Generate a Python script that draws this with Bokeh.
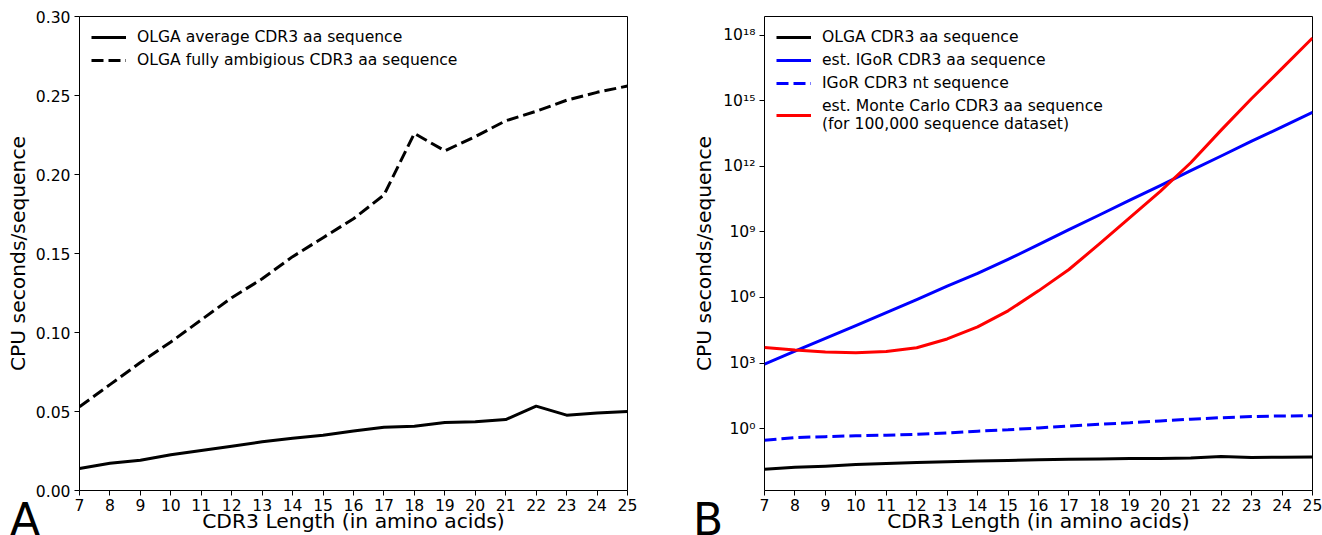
from bokeh.plotting import figure
from bokeh.layouts import row, column
from bokeh.models import (Range1d, FixedTicker, NumeralTickFormatter, CustomJSTickFormatter,
                          Legend, LegendItem, Div)
from bokeh.embed import file_html
from bokeh.resources import INLINE

# ---------------- data ----------------
lengths = [7, 8, 9, 10, 11, 12, 13, 14, 15, 16, 17, 18, 19, 20, 21, 22, 23, 24, 25]

# panel A (CPU seconds / sequence)
olga_avg = [0.0139, 0.0173, 0.0192, 0.0226, 0.0253, 0.0280, 0.0308, 0.0330, 0.0350, 0.0376,
            0.0401, 0.0407, 0.0430, 0.0435, 0.0449, 0.0534, 0.0477, 0.0490, 0.0500]
olga_ambig = [0.053, 0.067, 0.081, 0.094, 0.108, 0.122, 0.134, 0.148, 0.160, 0.172,
              0.187, 0.226, 0.215, 0.224, 0.234, 0.240, 0.247, 0.252, 0.256]

# panel B (log scale)
olga_aa = olga_avg
igor_aa_est = [8.9e2, 3.5e3, 1.35e4, 5.2e4, 2.0e5, 7.9e5, 3.3e6, 1.26e7, 5.5e7, 2.6e8,
               1.26e9, 5.9e9, 2.8e10, 1.3e11, 6.3e11, 2.95e12, 1.4e13, 6.3e13, 2.95e14]
igor_nt = [0.295, 0.39, 0.43, 0.47, 0.50, 0.55, 0.63, 0.76, 0.89, 1.07,
           1.32, 1.58, 1.86, 2.24, 2.7, 3.16, 3.55, 3.8, 3.9]
mc_aa_est = [5.2e3, 3.9e3, 3.2e3, 2.95e3, 3.4e3, 5.0e3, 1.26e4, 4.5e4, 2.45e5, 2.0e6,
             1.9e7, 2.8e8, 4.5e9, 7.1e10, 1.45e12, 4.5e13, 1.26e15, 3.0e16, 7.4e17]

x_ticks = [7, 8, 9, 10, 11, 12, 13, 14, 15, 16, 17, 18, 19, 20, 21, 22, 23, 24, 25]
a_y_ticks = [0.0, 0.05, 0.10, 0.15, 0.20, 0.25, 0.30]
b_y_ticks = [1e0, 1e3, 1e6, 1e9, 1e12, 1e15, 1e18]

x_title = "CDR3 Length (in amino acids)"
y_title = "CPU seconds/sequence"
panel_letters = ["A", "B"]

FONT = "DejaVu Sans"
TICK_FS = "15.6px"
LABEL_FS = "20.3px"
LEG_FS = "15.6px"


def style(p):
    p.xgrid.visible = False
    p.ygrid.visible = False
    p.outline_line_color = "black"
    p.outline_line_width = 1
    p.outline_line_alpha = 1
    p.background_fill_color = "white"
    p.border_fill_color = "white"
    for ax in p.axis:
        ax.axis_line_color = None
        ax.major_tick_line_color = "black"
        ax.major_tick_line_width = 1
        ax.major_tick_out = 5
        ax.major_tick_in = 0
        ax.minor_tick_line_color = None
        ax.major_label_text_font = FONT
        ax.major_label_text_font_size = TICK_FS
        ax.major_label_text_color = "black"
        ax.axis_label_text_font = FONT
        ax.axis_label_text_font_size = LABEL_FS
        ax.axis_label_text_font_style = "normal"
        ax.axis_label_text_color = "black"
    p.xaxis.ticker = FixedTicker(ticks=x_ticks)
    p.xaxis.major_label_standoff = 3
    p.xaxis.axis_label = x_title
    p.xaxis.axis_label_standoff = -5
    p.yaxis.major_label_standoff = 4
    p.yaxis.axis_label = y_title


def make_legend(items):
    leg = Legend(items=items, location="top_left")
    leg.margin = 12
    leg.padding = 0
    leg.spacing = 5
    leg.glyph_width = 35
    leg.glyph_height = 14
    leg.label_height = 14
    leg.label_standoff = 11
    leg.label_text_font = FONT
    leg.label_text_font_size = LEG_FS
    leg.label_text_color = "black"
    leg.label_text_baseline = "middle"
    leg.background_fill_alpha = 0
    leg.border_line_color = None
    return leg


# ---------------- panel A ----------------
p1 = figure(width=668, height=535, x_range=Range1d(7, 25), y_range=Range1d(0, 0.3),
            output_backend="svg", toolbar_location=None,
            min_border_left=79, min_border_right=41, min_border_top=16, min_border_bottom=45)
style(p1)
p1.yaxis.ticker = FixedTicker(ticks=a_y_ticks)
p1.yaxis.formatter = NumeralTickFormatter(format="0.00")
p1.yaxis.axis_label_standoff = 3

ra1 = p1.line(lengths, olga_avg, line_color="black", line_width=3, line_join="round")
ra2 = p1.line(lengths, olga_ambig, line_color="black", line_width=3, line_dash="12 5")
p1.add_layout(make_legend([
    LegendItem(label="OLGA average CDR3 aa sequence", renderers=[ra1]),
    LegendItem(label="OLGA fully ambigious CDR3 aa sequence", renderers=[ra2]),
]))

# ---------------- panel B ----------------
p2 = figure(width=654, height=535, x_range=Range1d(7, 25),
            y_range=Range1d(10 ** -2.83, 10 ** 18.85), y_axis_type="log",
            output_backend="svg", toolbar_location=None,
            min_border_left=96, min_border_right=10, min_border_top=16, min_border_bottom=45)
style(p2)
p2.yaxis.ticker = FixedTicker(ticks=b_y_ticks, minor_ticks=[])
p2.yaxis.formatter = CustomJSTickFormatter(code="""
const sup = {"0":"\u2070","1":"\u00b9","2":"\u00b2","3":"\u00b3","4":"\u2074","5":"\u2075",
             "6":"\u2076","7":"\u2077","8":"\u2078","9":"\u2079","-":"\u207b"};
const e = Math.round(Math.log10(tick));
return "10" + String(e).split("").map(c => sup[c]).join("");
""")
p2.yaxis.axis_label_standoff = 4

rb1 = p2.line(lengths, olga_aa, line_color="black", line_width=3, line_join="round")
rb2 = p2.line(lengths, igor_aa_est, line_color="#0000ff", line_width=3, line_join="round")
rb3 = p2.line(lengths, igor_nt, line_color="#0000ff", line_width=3, line_dash="12 5")
rb4 = p2.line(lengths, mc_aa_est, line_color="#ff0000", line_width=3, line_join="round")
p2.add_layout(make_legend([
    LegendItem(label="OLGA CDR3 aa sequence", renderers=[rb1]),
    LegendItem(label="est. IGoR CDR3 aa sequence", renderers=[rb2]),
    LegendItem(label="IGoR CDR3 nt sequence", renderers=[rb3]),
    LegendItem(label="est. Monte Carlo CDR3 aa sequence\n(for 100,000 sequence dataset)", renderers=[rb4]),
]))

# panel letters, overlaid on the bottom strip of the two figures
letter_style = "position:absolute;top:3px;font-family:'DejaVu Sans';font-size:44px;line-height:1;color:black;"
letters_html = (
    '<div style="position:relative;width:1322px;height:40px;">'
    f'<span style="{letter_style}left:10px;">{panel_letters[0]}</span>'
    f'<span style="{letter_style}left:693px;">{panel_letters[1]}</span>'
    '</div>'
)
letters = Div(text=letters_html, width=1322, height=40, margin=(-40, 0, 0, 0))

layout = column(row(p1, p2), letters)
with open("out.html", "w", encoding="utf-8") as f:
    f.write(file_html(layout, INLINE))
